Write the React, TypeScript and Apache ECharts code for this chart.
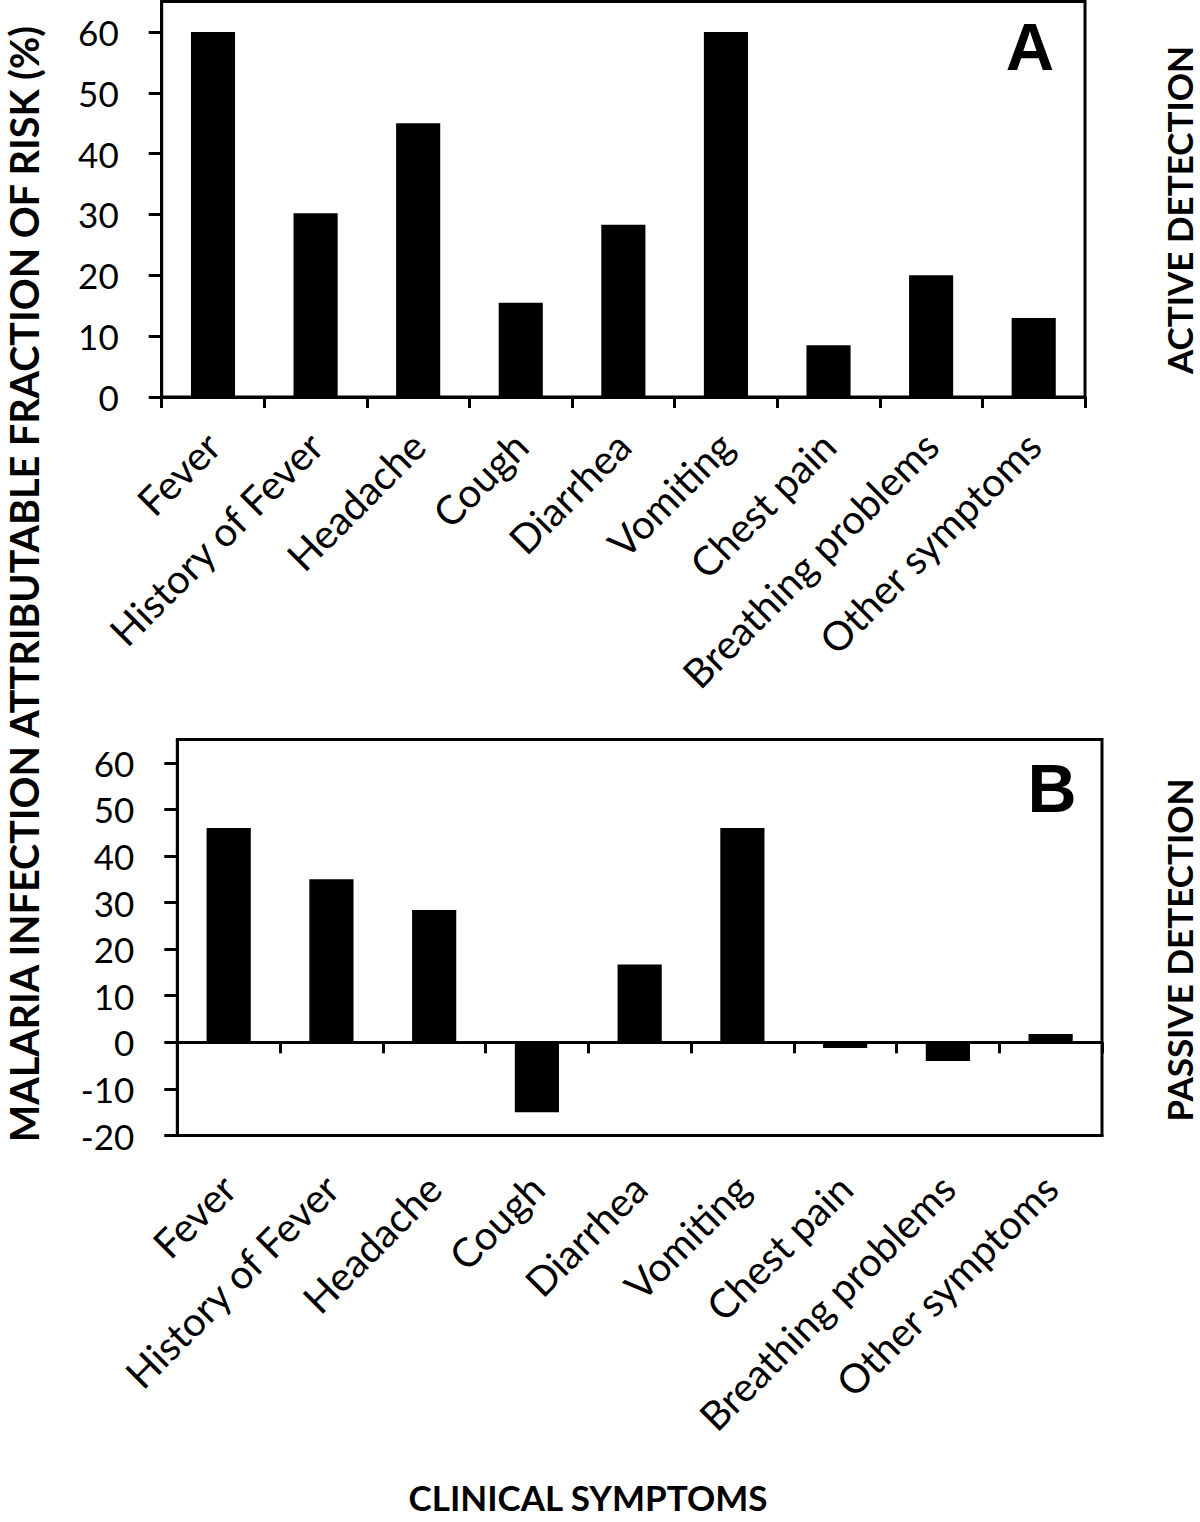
import React, { useEffect, useRef } from "react";
import * as echarts from "echarts";

const categories = [
  "Fever",
  "History of Fever",
  "Headache",
  "Cough",
  "Diarrhea",
  "Vomiting",
  "Chest pain",
  "Breathing problems",
  "Other symptoms",
];
const activeValues = [60, 30.2, 45, 15.5, 28.3, 60, 8.5, 20, 13];
const passiveValues = [46, 35, 28.4, -15, 16.7, 46, -1.2, -4, 1.8];
const activeTicks = [0, 10, 20, 30, 40, 50, 60];
const passiveTicks = [-20, -10, 0, 10, 20, 30, 40, 50, 60];

const yTitle = "MALARIA INFECTION ATTRIBUTABLE FRACTION OF RISK (%)";
const xTitle = "CLINICAL SYMPTOMS";
const panelA = "A";
const panelB = "B";
const activeLabel = "ACTIVE DETECTION";
const passiveLabel = "PASSIVE DETECTION";

const FONT = "Lato";

export default function App() {
  const ref = useRef<HTMLDivElement>(null);
  useEffect(() => {
    if (!ref.current) return;
    const chart = echarts.init(ref.current, null, { renderer: "svg" });
    const axisLine = { show: true, lineStyle: { color: "#000", width: 3 } };
    const catLabel = (margin: number) => ({
      show: true,
      interval: 0,
      rotate: 45,
      fontSize: 40,
      fontFamily: FONT,
      color: "#000",
      margin,
    });
    const valLabel = (ticks: number[]) => ({
      show: true,
      fontSize: 35,
      fontFamily: FONT,
      color: "#000",
      margin: 43,
      customValues: ticks,
    });
    const valTick = (ticks: number[]) => ({
      show: true,
      length: 13,
      lineStyle: { color: "#000", width: 3 },
      customValues: ticks,
    });
    const titleStyle = (size: number) => ({
      fill: "#000",
      fontFamily: FONT,
      fontWeight: "bold",
      fontSize: size,
      textAlign: "center",
      textVerticalAlign: "middle",
    });
    chart.setOption({
      animation: false,
      backgroundColor: "#fff",
      grid: [
        {
          left: 161.7,
          right: 115,
          top: 1.5,
          height: 395.5,
          show: true,
          borderColor: "#000",
          borderWidth: 3,
          backgroundColor: "transparent",
        },
        {
          left: 177.3,
          right: 98,
          top: 739.5,
          height: 396,
          show: true,
          borderColor: "#000",
          borderWidth: 3,
          backgroundColor: "transparent",
        },
      ],
      xAxis: [
        {
          type: "category",
          gridIndex: 0,
          data: categories,
          position: "bottom",
          axisLine,
          axisTick: { show: true, interval: 0, length: 11, lineStyle: { color: "#000", width: 3 } },
          axisLabel: catLabel(42),
          splitLine: { show: false },
        },
        {
          type: "category",
          gridIndex: 1,
          data: categories,
          position: "bottom",
          axisLine: { ...axisLine, onZero: false },
          axisTick: { show: false },
          axisLabel: catLabel(46),
          splitLine: { show: false },
        },
        {
          type: "category",
          gridIndex: 1,
          data: categories,
          position: "top",
          axisLine: { ...axisLine, onZero: true },
          axisTick: { show: true, inside: true, interval: 0, length: 11, lineStyle: { color: "#000", width: 3 } },
          axisLabel: { show: false },
          splitLine: { show: false },
        },
      ],
      yAxis: [
        {
          type: "value",
          gridIndex: 0,
          min: 0,
          max: 65,
          interval: 10,
          axisLine,
          axisTick: valTick(activeTicks),
          axisLabel: valLabel(activeTicks),
          splitLine: { show: false },
        },
        {
          type: "value",
          gridIndex: 1,
          min: -20,
          max: 65,
          interval: 10,
          axisLine: { ...axisLine, onZero: false },
          axisTick: valTick(passiveTicks),
          axisLabel: valLabel(passiveTicks),
          splitLine: { show: false },
        },
      ],
      series: [
        {
          type: "bar",
          xAxisIndex: 0,
          yAxisIndex: 0,
          data: activeValues,
          barWidth: "43%",
          itemStyle: { color: "#000" },
        },
        {
          type: "bar",
          xAxisIndex: 1,
          yAxisIndex: 1,
          data: passiveValues,
          barWidth: "43%",
          itemStyle: { color: "#000" },
        },
      ],
      graphic: [
        {
          type: "text",
          x: 23.5,
          y: 584,
          rotation: Math.PI / 2,
          style: { text: yTitle, ...titleStyle(39.5) },
        },
        {
          type: "text",
          x: 588,
          y: 1497,
          style: { text: xTitle, ...titleStyle(35) },
        },
        {
          type: "text",
          x: 1179,
          y: 210,
          rotation: Math.PI / 2,
          style: { text: activeLabel, ...titleStyle(35) },
        },
        {
          type: "text",
          x: 1179,
          y: 950,
          rotation: Math.PI / 2,
          style: { text: passiveLabel, ...titleStyle(35) },
        },
        {
          type: "text",
          x: 1030,
          y: 46,
          style: {
            text: panelA,
            fill: "#000",
            fontFamily: "Liberation Sans",
            fontWeight: "bold",
            fontSize: 67,
            textAlign: "center",
            textVerticalAlign: "middle",
          },
        },
        {
          type: "text",
          x: 1052,
          y: 788,
          style: {
            text: panelB,
            fill: "#000",
            fontFamily: "Liberation Sans",
            fontWeight: "bold",
            fontSize: 68,
            textAlign: "center",
            textVerticalAlign: "middle",
          },
        },
      ],
    });
    return () => chart.dispose();
  }, []);
  return (
    <div
      ref={ref}
      style={{ position: "absolute", left: 0, top: 0, width: 1200, height: 1522 }}
    />
  );
}
